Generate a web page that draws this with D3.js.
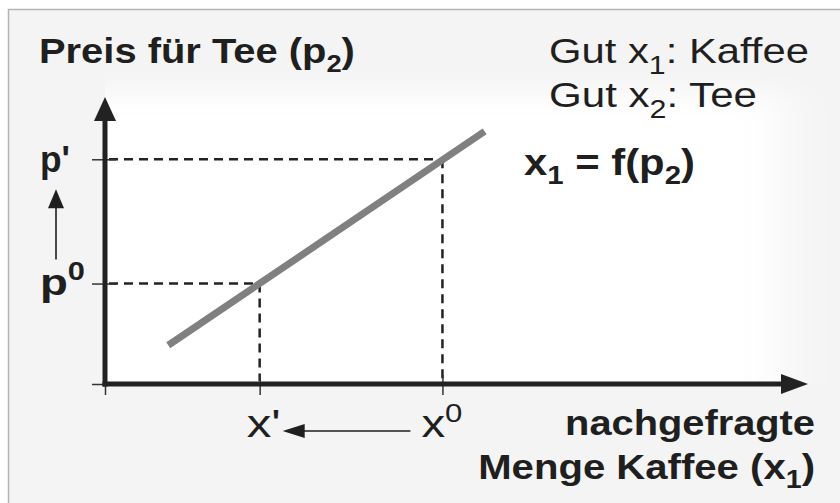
<!DOCTYPE html>
<html>
<head>
<meta charset="utf-8">
<script src="https://cdn.jsdelivr.net/npm/d3@7"></script>
<style>
  body { margin: 0; background: #fff; }
  svg { display: block; }
  text { white-space: pre; }
</style>
</head>
<body>
<div id="chart"></div>
<script>
// Werte (in Einheiten der Achsen, 0..100)
const quantityKeys = ["x'", "x0"];
const quantityValues = [22, 48];
const priceKeys = ["p0", "p'"];
const priceValues = [35, 78.3];
const lineQuantity = [9, 54];     // x1 = f(p2)
const linePrice = [13.5, 88];
const xTickValues = [0, 22, 48];
const yTickValues = [0, 35, 78.3];

const FONT = "'Liberation Sans', Arial, Helvetica, sans-serif";
const INK = "#1f1f1f";

function drawChart() {
    const width = 840, height = 503;

    const svg = d3.select("#chart")
        .append("svg")
        .attr("width", width)
        .attr("height", height);

    const x = d3.scaleLinear().domain([0, 100]).range([105, 808]);
    const y = d3.scaleLinear().domain([0, 100]).range([384, 97]);

    // Hintergrund: grauer Rahmen + weiche weiße Fläche hinter dem Diagramm
    const defs = svg.append("defs");
    defs.append("filter")
        .attr("id", "soft")
        .attr("filterUnits", "userSpaceOnUse")
        .attr("x", 0).attr("y", 0).attr("width", width).attr("height", height)
        .append("feGaussianBlur")
        .attr("stdDeviation", "26 13");
    defs.append("clipPath")
        .attr("id", "plotClip")
        .append("rect")
        .attr("x", x(0)).attr("y", 0)
        .attr("width", width - x(0)).attr("height", y(0));

    svg.append("rect")
        .attr("x", 8).attr("y", 9)
        .attr("width", width - 8).attr("height", height - 9)
        .attr("fill", "#f4f4f4");
    svg.append("path")
        .attr("d", `M8.5,${height}V9.5H${width}`)
        .attr("fill", "none")
        .attr("stroke", "#b3b3b3")
        .attr("stroke-width", 1.5);

    svg.append("g")
        .attr("clip-path", "url(#plotClip)")
        .append("rect")
        .attr("x", 60).attr("y", 93)
        .attr("width", 725).attr("height", 340)
        .attr("fill", "#fff")
        .attr("filter", "url(#soft)");

    // Hilfslinien (gestrichelt)
    const guides = svg.append("g")
        .attr("fill", "none")
        .attr("stroke", "#222")
        .attr("stroke-width", 2.5)
        .attr("stroke-dasharray", "9,6");
    quantityValues.forEach((q, i) => {
        const p = priceValues[i];
        guides.append("path")
            .attr("d", `M${x(0) + 4},${y(p)}H${x(q)}`);
        guides.append("path")
            .attr("d", `M${x(q)},${y(p)}V${y(0) - 3}`);
    });

    // Ticks über die Achsen
    const xAxis = svg.append("g")
        .attr("transform", `translate(0,${y(0) - 9})`)
        .call(d3.axisBottom(x).tickValues(xTickValues).tickSize(20).tickFormat(""));
    const yAxis = svg.append("g")
        .attr("transform", `translate(${x(0) + 11},0)`)
        .call(d3.axisLeft(y).tickValues(yTickValues).tickSize(24).tickFormat(""));
    [xAxis, yAxis].forEach(g => {
        g.select(".domain").remove();
        g.selectAll(".tick line").attr("stroke", "#333").attr("stroke-width", 1.5);
    });

    // Gerade x1 = f(p2)
    svg.append("line")
        .attr("x1", x(lineQuantity[0])).attr("y1", y(linePrice[0]))
        .attr("x2", x(lineQuantity[1])).attr("y2", y(linePrice[1]))
        .attr("stroke", "#808080")
        .attr("stroke-width", 7);

    // Achsen mit Pfeilspitzen
    const axisInk = "#222";
    svg.append("path")
        .attr("d", `M${x(0) - 2.5},${y(0)}H${x(100) - 24}`)
        .attr("stroke", axisInk).attr("stroke-width", 5);
    svg.append("path")
        .attr("d", `M${x(100)},${y(0)}L${x(100) - 27},${y(0) - 10}L${x(100) - 27},${y(0) + 10}Z`)
        .attr("fill", axisInk);
    svg.append("path")
        .attr("d", `M${x(0)},${y(0) + 2.5}V${y(100) + 22}`)
        .attr("stroke", axisInk).attr("stroke-width", 5);
    svg.append("path")
        .attr("d", `M${x(0)},${y(100)}L${x(0) - 11},${y(100) + 24}L${x(0) + 11},${y(100) + 24}Z`)
        .attr("fill", axisInk);

    // kleine Pfeile: p0 -> p'  und  x0 -> x'
    const py0 = y(priceValues[0]) - 24, py1 = y(priceValues[1]) + 30;
    svg.append("path").attr("d", `M56,${py0}V${py1 + 16}`)
        .attr("stroke", INK).attr("stroke-width", 1.6);
    svg.append("path").attr("d", `M56,${py1}L48,${py1 + 19}L64,${py1 + 19}Z`).attr("fill", INK);

    const qx0 = x(quantityValues[1]) - 32, qx1 = x(quantityValues[0]) + 23;
    svg.append("path").attr("d", `M${qx0},431H${qx1 + 18}`)
        .attr("stroke", INK).attr("stroke-width", 1.6);
    svg.append("path").attr("d", `M${qx1},431L${qx1 + 22},424L${qx1 + 22},438Z`).attr("fill", INK);

    // Texte (leicht in die Breite gezogen wie im Original)
    function label(parts, o) {
        const t = svg.append("text")
            .attr("font-family", FONT)
            .attr("font-size", o.size)
            .attr("font-weight", o.weight || "normal")
            .attr("fill", INK)
            .attr("text-anchor", o.anchor || "start");
        let shift = 0;
        parts.forEach(([s, kind]) => {
            const dy = kind === "sub" ? o.sub : kind === "sup" ? -o.sup : 0;
            t.append("tspan")
                .attr("font-size", kind ? o.small : null)
                .attr("dy", dy - shift)
                .text(s);
            shift = dy;
        });
        const w = t.node().getBBox().width;
        t.attr("transform", `translate(${o.x},${o.y}) scale(${o.width / w},1)`);
    }

    label([["Preis für Tee (p"], ["2", "sub"], [")"]],
        {x: 39, y: 63, size: 35, weight: "bold", width: 316, small: 24, sub: 9});
    label([["Gut x"], ["1", "sub"], [": Kaffee"]],
        {x: 549, y: 63, size: 36, width: 260, small: 26, sub: 11});
    label([["Gut x"], ["2", "sub"], [": Tee"]],
        {x: 549, y: 107, size: 36, width: 208, small: 26, sub: 11});
    label([["x"], ["1", "sub"], [" = f(p"], ["2", "sub"], [")"]],
        {x: 524, y: 175, size: 37, weight: "bold", width: 171, small: 26, sub: 9});

    label([["p'"]],
        {x: 40, y: y(priceValues[1]) + 13, size: 37, weight: "bold", width: 30});
    label([["p"], ["0", "sup"]],
        {x: 40, y: y(priceValues[0]) + 11, size: 37, weight: "bold", width: 45, small: 25, sup: 15});
    label([["x'"]],
        {x: x(quantityValues[0]) - 13, y: 437, size: 38, width: 34});
    label([["x"], ["0", "sup"]],
        {x: x(quantityValues[1]) - 21, y: 437, size: 38, width: 41, small: 25, sup: 15});

    label([["nachgefragte"]],
        {x: 815, y: 435, size: 35, weight: "bold", anchor: "end", width: 250});
    label([["Menge Kaffee (x"], ["1", "sub"], [")"]],
        {x: 815, y: 479, size: 35, weight: "bold", anchor: "end", width: 337, small: 25, sub: 9});
}

drawChart();
</script>
</body>
</html>
